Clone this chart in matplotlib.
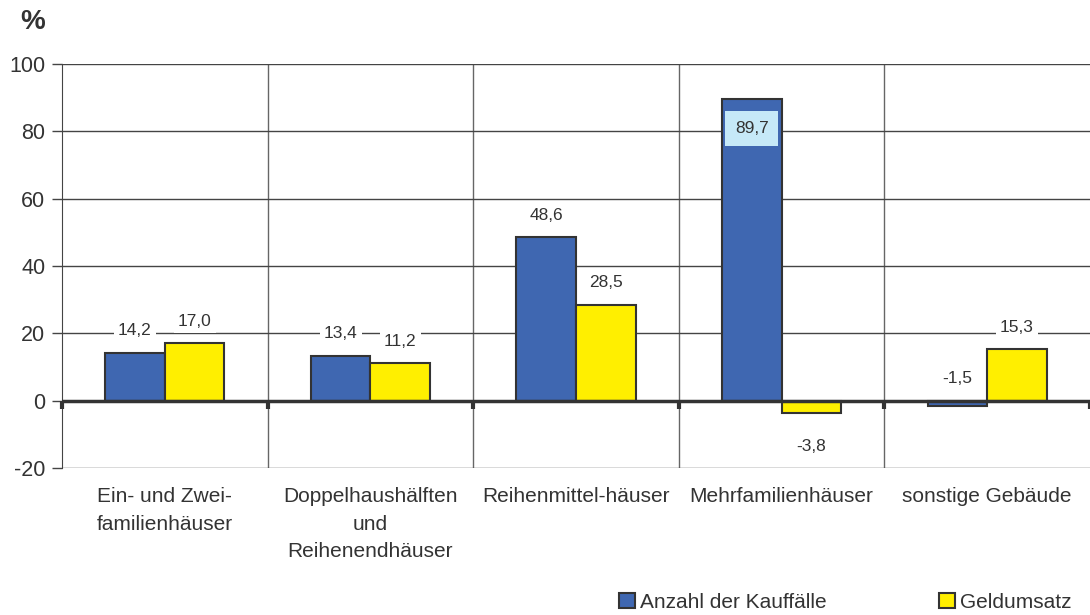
import numpy as np
import matplotlib.pyplot as plt

plt.rcParams['font.family'] = ['Liberation Sans', 'DejaVu Sans']
plt.rcParams['axes.unicode_minus'] = False

kategorien = ["Ein- und Zwei-\nfamilienhäuser", "Doppelhaushälften\nund\nReihenendhäuser",
              "Reihenmittel-häuser", "Mehrfamilienhäuser", "sonstige Gebäude"]
kauffaelle = [14.2, 13.4, 48.6, 89.7, -1.5]
geldumsatz = [17.0, 11.2, 28.5, -3.8, 15.3]

blau = "#3F67B1"
gelb = "#FFEF00"
text_farbe = "#333333"

fig = plt.figure(figsize=(10.9, 6.15), dpi=100)
ax = fig.add_axes([62/1090, 1-468/615, 1-62/1090, (468-64)/615])

x = np.arange(len(kategorien))
b = 0.29
ax.bar(x - b/2, kauffaelle, b, color=blau, edgecolor="#333333", linewidth=1.5, zorder=3,
       label="Anzahl der Kauffälle")
ax.bar(x + b/2, geldumsatz, b, color=gelb, edgecolor="#333333", linewidth=1.5, zorder=3,
       label="Geldumsatz")

def fmt(v):
    return f"{v:.1f}".replace(".", ",")

# Wertebeschriftungen
for xi, v in zip(x - b/2, kauffaelle):
    if v > 80:
        ax.text(xi, v - 8.8, fmt(v), ha="center", va="center", fontsize=12.5, color=text_farbe,
                bbox=dict(facecolor="#C6E9F8", edgecolor="none", pad=7), zorder=5)
    else:
        ax.text(xi, max(v, 0) + 6.5, fmt(v), ha="center", va="center", fontsize=12.5, color=text_farbe,
                bbox=dict(facecolor="white", edgecolor="none", pad=3), zorder=5)
for xi, v in zip(x + b/2, geldumsatz):
    if v < 0:
        ax.text(xi, v - 9.8, fmt(v), ha="center", va="center", fontsize=12.5, color=text_farbe,
                bbox=dict(facecolor="white", edgecolor="none", pad=3), zorder=5)
    else:
        ax.text(xi, v + 6.5, fmt(v), ha="center", va="center", fontsize=12.5, color=text_farbe,
                bbox=dict(facecolor="white", edgecolor="none", pad=3), zorder=5)

ax.set_xlim(-0.5, len(kategorien) - 0.5)
ax.set_ylim(-20, 100)
ax.set_yticks(range(-20, 101, 20))
ax.set_xticks(x)
ax.set_xticklabels(kategorien, fontsize=15, color=text_farbe, linespacing=1.55)
ax.set_xticks(np.arange(0.5, len(kategorien) - 0.5), minor=True)
ax.tick_params(axis="x", which="both", length=0, pad=14)
ax.tick_params(axis="y", length=7, width=1, color="#444444", labelsize=15.5, labelcolor=text_farbe, pad=5)

ax.grid(axis="y", color="#444444", linewidth=1, zorder=0)
ax.grid(axis="x", which="minor", color="#666666", linewidth=1, zorder=0)
for s in ["top", "right", "bottom"]:
    ax.spines[s].set_visible(False)
ax.spines["left"].set_color("#444444")

ax.axhline(0, color="#333333", linewidth=2.5, zorder=4)
grenzen = np.arange(-0.5, len(kategorien))
ax.plot(grenzen, np.zeros(len(grenzen)), linestyle="none", marker=3, markersize=6,
        markeredgewidth=3, color="#333333", zorder=4, clip_on=False)

fig.text(20/1090, 1-22/615, "%", fontsize=20, fontweight="bold", color=text_farbe, va="center")

fig.legend(loc="lower right", bbox_to_anchor=(1.0, -0.025), ncol=2, frameon=False, fontsize=15,
           handlelength=0.75, handleheight=0.75, handletextpad=0.25, columnspacing=5.4,
           labelcolor=text_farbe)

fig.savefig("out.png", dpi=100)
